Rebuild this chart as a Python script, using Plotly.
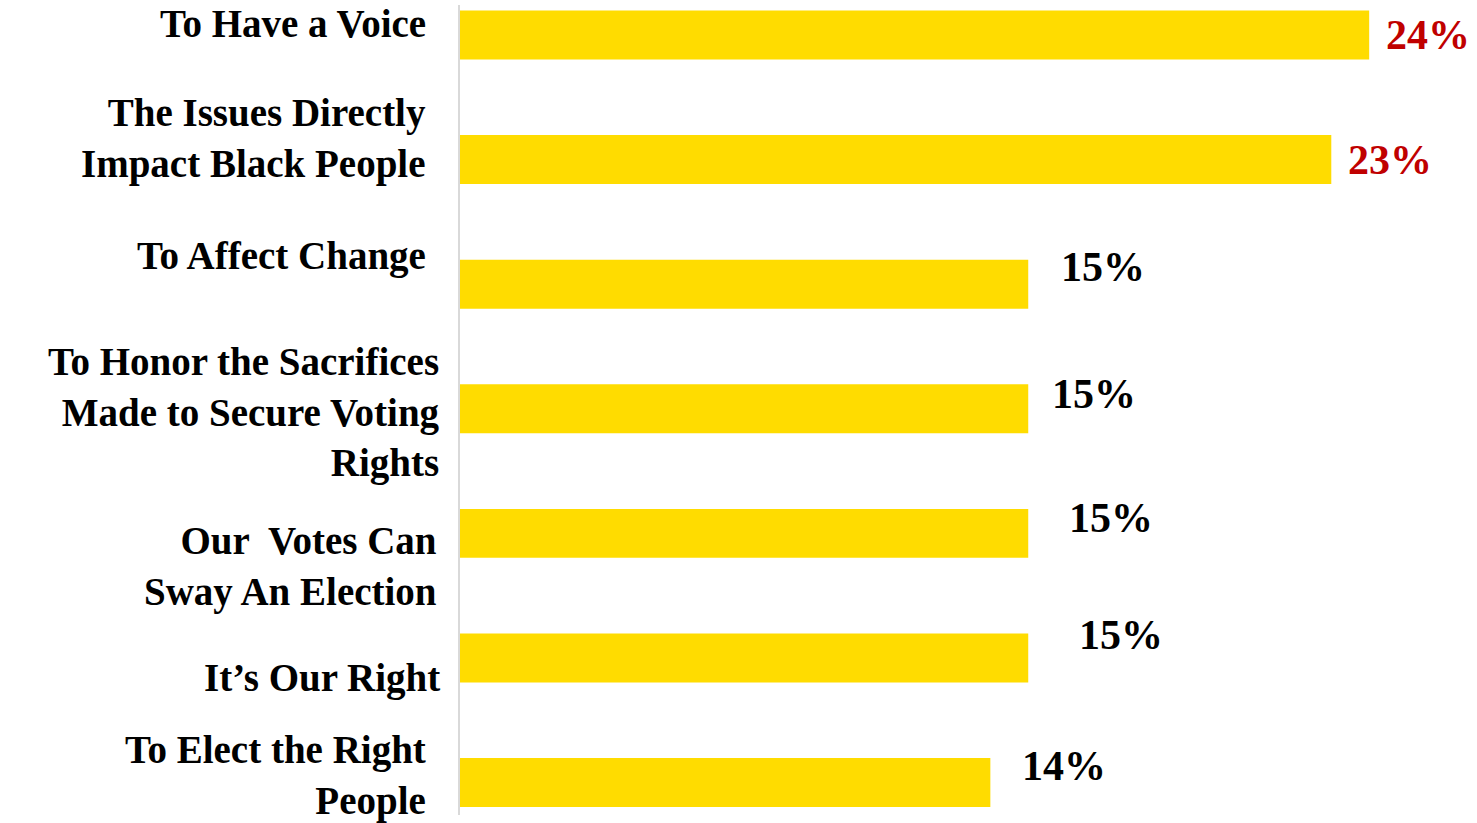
import plotly.graph_objects as go

# Reasons given for voting, share of respondents (%)
reasons = [
    "To Have a Voice",
    "The Issues Directly<br>Impact Black People",
    "To Affect Change",
    "To Honor the Sacrifices<br>Made to Secure Voting<br>Rights",
    "Our  Votes Can<br>Sway An Election",
    "It’s Our Right",
    "To Elect the Right<br>People",
]
shares = [24, 23, 15, 15, 15, 15, 14]

# Label styling / placement tweaks (pixels)
value_colors = ["#C00000", "#C00000", "#000000", "#000000", "#000000", "#000000", "#000000"]
value_dx = [15, 15, 31, 22, 39, 49, 30]
value_dy = [0, 0, 17, 15, 15, 23, 17]
label_dx = [-32, -32, -32, -18, -21, -18, -32]
label_dy = [11, 21, 28, -4, -33, -20, 7]

BAR = "#FFDC00"
SERIF = "Liberation Serif, Times New Roman, serif"

fig = go.Figure(
    go.Bar(
        x=shares,
        y=reasons,
        orientation="h",
        marker=dict(color=BAR, line=dict(width=0)),
        width=0.393,
        hoverinfo="skip",
    )
)

annotations = []
for i, (r, v) in enumerate(zip(reasons, shares)):
    annotations.append(dict(
        x=v, y=r, xref="x", yref="y",
        text=f"<b>{v}%</b>", showarrow=False,
        xanchor="left", yanchor="middle",
        xshift=value_dx[i], yshift=value_dy[i],
        font=dict(family=SERIF, size=42, color=value_colors[i]),
    ))
    annotations.append(dict(
        x=0, y=r, xref="paper", yref="y",
        text=f"<b>{r}</b>", showarrow=False,
        xanchor="right", yanchor="middle", align="right",
        xshift=label_dx[i], yshift=label_dy[i],
        font=dict(family=SERIF, size=39, color="#000000"),
    ))

fig.update_layout(
    width=1477, height=823,
    margin=dict(l=460, r=51, t=5, b=8),
    paper_bgcolor="white", plot_bgcolor="white",
    showlegend=False,
    annotations=annotations,
    xaxis=dict(range=[0, 25.5], visible=False, fixedrange=True),
    yaxis=dict(
        type="category", categoryorder="array", categoryarray=reasons,
        range=[6.26, -0.24], showticklabels=False, ticks="",
        showgrid=False, zeroline=False,
        showline=True, linecolor="#D9D9D9", linewidth=2,
        fixedrange=True,
    ),
)

fig.write_html("out.html")
